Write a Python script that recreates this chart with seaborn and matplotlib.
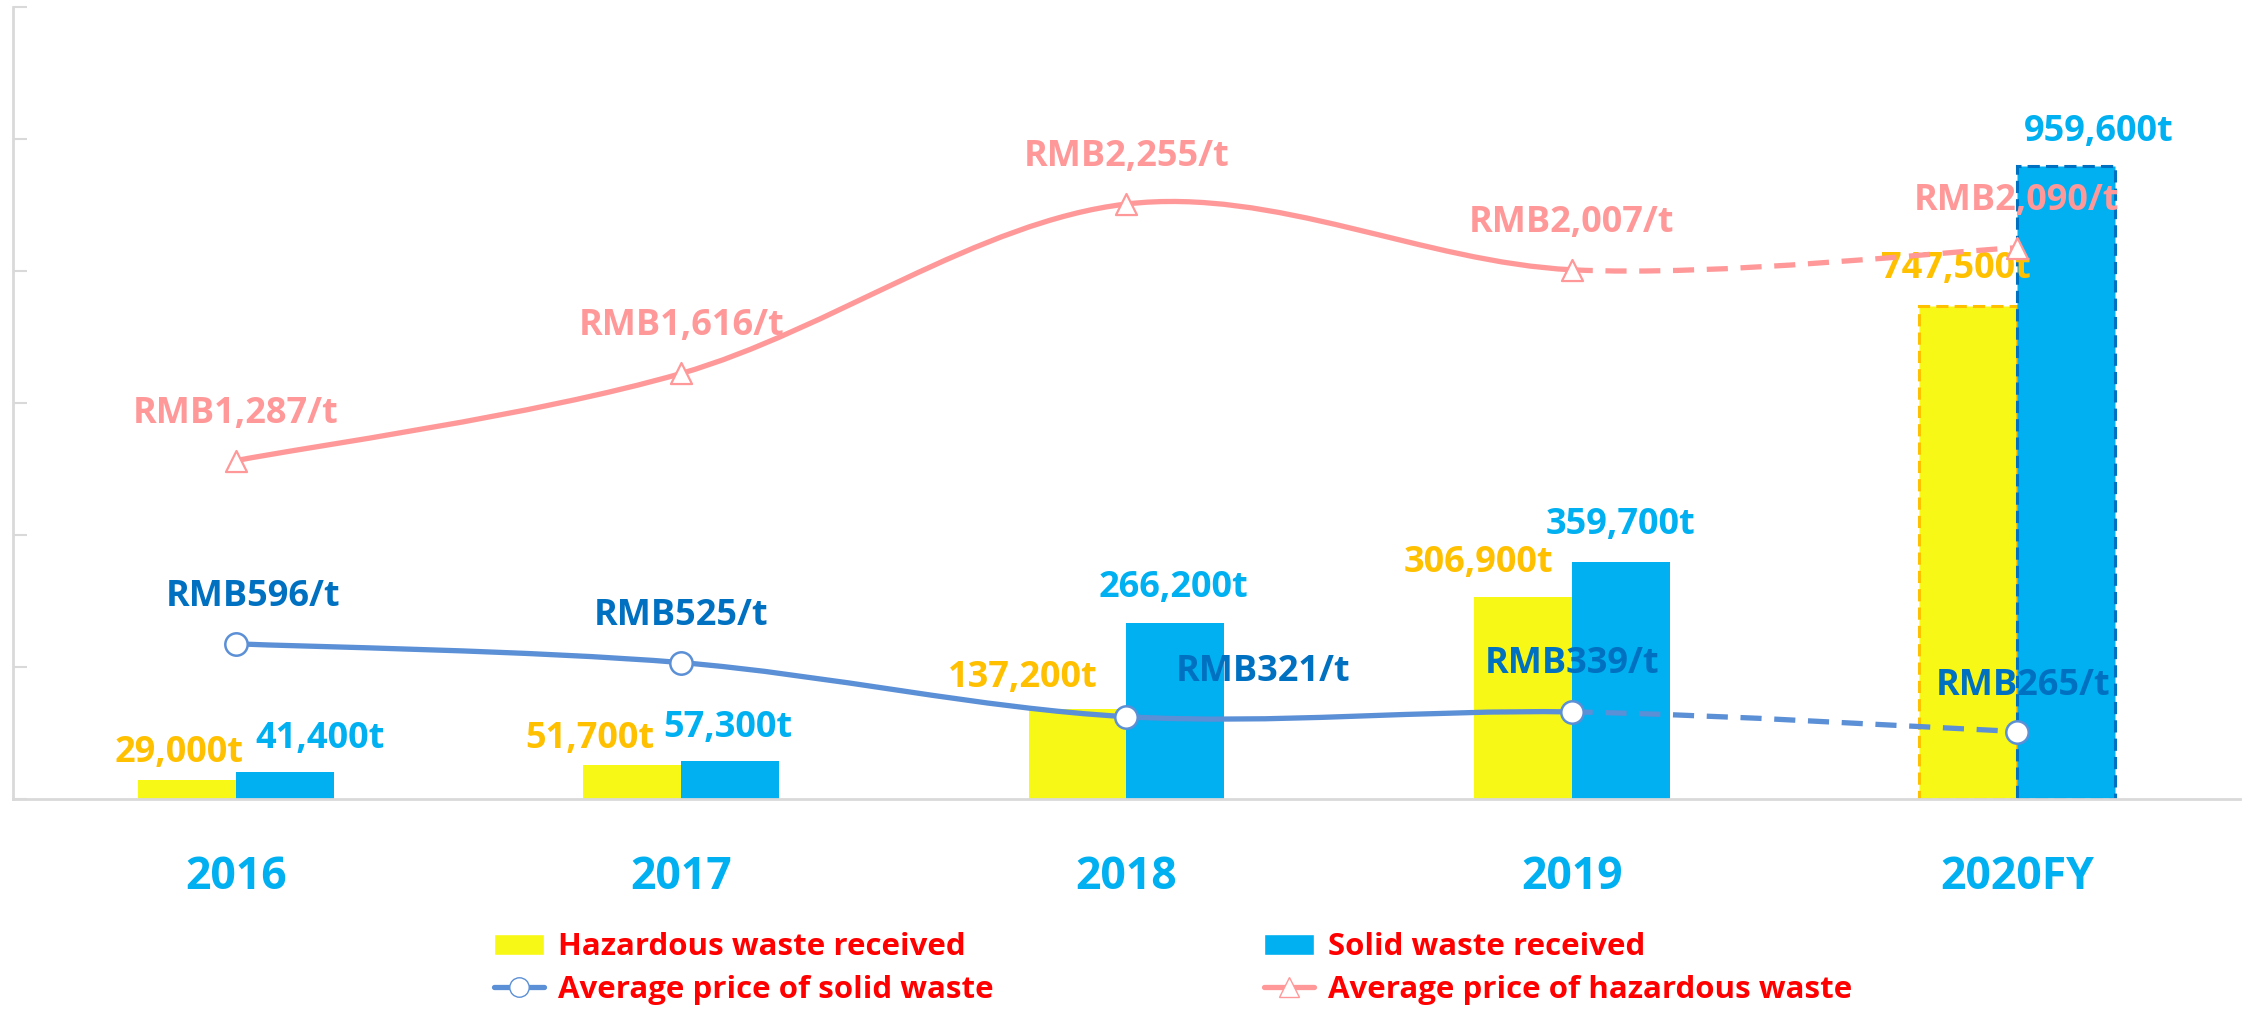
import numpy as np
import pandas as pd
import matplotlib
matplotlib.use('Agg')
import matplotlib.pyplot as plt
from matplotlib.path import Path
from matplotlib.patches import PathPatch, Patch
from matplotlib.lines import Line2D
import seaborn as sns

#chart data
years = ['2016', '2017', '2018', '2019', '2020FY']
hazardous_t = [29000, 51700, 137200, 306900, 747500]
solid_t = [41400, 57300, 266200, 359700, 959600]
hazardous_price = [1287, 1616, 2255, 2007, 2090]
solid_price = [596, 525, 321, 339, 265]

#label placement (pixels from the mark, dx right / dy up)
haz_bar_off = [(-8, 27), (-42, 26), (-55, 31), (-44, 34), (-12, 37)]
solid_bar_off = [(35, 33), (-2, 33), (-2, 35), (0, 37), (33, 34)]
haz_price_off = [(0, 47)] * 5
solid_price_off = [(17, 47), (0, 47), (137, 45), (0, 48), (6, 46)]

YELLOW = '#F8F816'
BLUE = '#00B0F0'
PINK = '#FF9999'
LINE_BLUE = '#5B8FD6'
DARK_BLUE = '#0070C0'
ORANGE = '#FFC000'
GRAY = '#D9D9D9'

sns.set_style('white')
plt.rcParams['font.family'] = ['Open Sans', 'DejaVu Sans']

df = pd.DataFrame({
    'year': years * 2,
    'tonnes': hazardous_t + solid_t,
    'kind': ['Hazardous waste received'] * 5 + ['Solid waste received'] * 5,
})

fig = plt.figure(figsize=(22.44, 10.09), dpi=100)
ax = fig.add_axes([0.006, 0.208, 0.992, 0.785])

sns.barplot(data=df, x='year', y='tonnes', hue='kind', palette=[YELLOW, BLUE],
            width=0.44, saturation=1, legend=False, linewidth=0, ax=ax)

#forecast bars get dashed outlines
haz_bars = ax.containers[0]
solid_bars = ax.containers[1]
for bar, col in [(haz_bars[4], ORANGE), (solid_bars[4], DARK_BLUE)]:
    bar.set_edgecolor(col)
    bar.set_linestyle((0, (4, 2)))
    bar.set_linewidth(2.2)

ax.set_xlim(-0.5, 4.5)
ax.set_ylim(0, 1200000)
ax.set_yticks(np.arange(0, 1200001, 200000))
ax.set_yticklabels([])
ax.set_xlabel('')
ax.set_ylabel('')
ax.set_xticks(range(5))
ax.set_xticklabels(years, fontsize=32, fontweight='bold', color=BLUE)
ax.set_xticks(np.arange(-0.5, 4.6, 1), minor=True)
ax.tick_params(axis='x', which='major', length=0, pad=40)
ax.tick_params(axis='x', which='minor', direction='in', length=18, width=1.5, color=GRAY)
ax.tick_params(axis='y', direction='in', length=10, width=1.5, color=GRAY, left=True)
for side in ['top', 'right']:
    ax.spines[side].set_visible(False)
for side in ['left', 'bottom']:
    ax.spines[side].set_color(GRAY)
    ax.spines[side].set_linewidth(2)

#bar labels
for i in range(5):
    ax.annotate(f'{hazardous_t[i]:,}t', (i - 0.11, hazardous_t[i]), xytext=haz_bar_off[i],
                textcoords='offset pixels', ha='center', va='center',
                fontsize=26, fontweight='bold', color=ORANGE)
    ax.annotate(f'{solid_t[i]:,}t', (i + 0.11, solid_t[i]), xytext=solid_bar_off[i],
                textcoords='offset pixels', ha='center', va='center',
                fontsize=26, fontweight='bold', color=BLUE)

#price lines on second axis
ax2 = ax.twinx()
for s in ax2.spines.values():
    s.set_visible(False)


def smooth_path(ys, start, stop):
    # cubic bezier segments through the points (catmull-rom style)
    pts = np.column_stack([np.arange(len(ys)), ys]).astype(float)
    n = len(pts)
    verts = [pts[start]]
    codes = [Path.MOVETO]
    for i in range(start, stop):
        p0 = pts[max(i - 1, 0)]
        p1 = pts[i]
        p2 = pts[i + 1]
        p3 = pts[min(i + 2, n - 1)]
        verts += [p1 + (p2 - p0) / 6, p2 - (p3 - p1) / 6, p2]
        codes += [Path.CURVE4] * 3
    return Path(verts, codes)


for ys, col in [(hazardous_price, PINK), (solid_price, LINE_BLUE)]:
    ax2.add_patch(PathPatch(smooth_path(ys, 0, 3), fill=False, edgecolor=col,
                            linewidth=3.8, capstyle='round', zorder=3))
    ax2.add_patch(PathPatch(smooth_path(ys, 3, 4), fill=False, edgecolor=col,
                            linewidth=3.8, linestyle=(0, (4, 2.4)), zorder=3))

sns.scatterplot(x=np.arange(5), y=hazardous_price, marker='^', s=230, color='white',
                edgecolor=PINK, linewidth=1.6, ax=ax2, zorder=5)
sns.scatterplot(x=np.arange(5), y=solid_price, marker='o', s=260, color='white',
                edgecolor=LINE_BLUE, linewidth=1.8, ax=ax2, zorder=5)
ax2.set_xlim(-0.5, 4.5)
ax2.set_ylim(10, 2998)
ax2.set_yticks([])
ax2.set_ylabel('')

for i in range(5):
    ax2.annotate(f'RMB{hazardous_price[i]:,}/t', (i, hazardous_price[i]), xytext=haz_price_off[i],
                 textcoords='offset pixels', ha='center', va='center',
                 fontsize=26, fontweight='bold', color=PINK, zorder=6)
    ax2.annotate(f'RMB{solid_price[i]:,}/t', (i, solid_price[i]), xytext=solid_price_off[i],
                 textcoords='offset pixels', ha='center', va='center',
                 fontsize=26, fontweight='bold', color=DARK_BLUE, zorder=6)

#legend
handles = [
    Patch(facecolor=YELLOW, label='Hazardous waste received'),
    Line2D([], [], color=LINE_BLUE, lw=3.8, marker='o', markersize=14, markerfacecolor='white',
           markeredgecolor=LINE_BLUE, label='Average price of solid waste'),
    Patch(facecolor=BLUE, label='Solid waste received'),
    Line2D([], [], color=PINK, lw=3.8, marker='^', markersize=14, markerfacecolor='white',
           markeredgecolor=PINK, label='Average price of hazardous waste'),
]
leg = fig.legend(handles=handles, ncol=2, loc='center left', bbox_to_anchor=(0.213, 0.040),
                 frameon=False, prop={'size': 22.5, 'weight': 'bold'}, handlelength=1.6,
                 handletextpad=0.45, columnspacing=8.65, labelspacing=0.4, borderpad=0)
for t in leg.get_texts():
    t.set_color('#FF0000')

plt.savefig('out.png', dpi=100)
